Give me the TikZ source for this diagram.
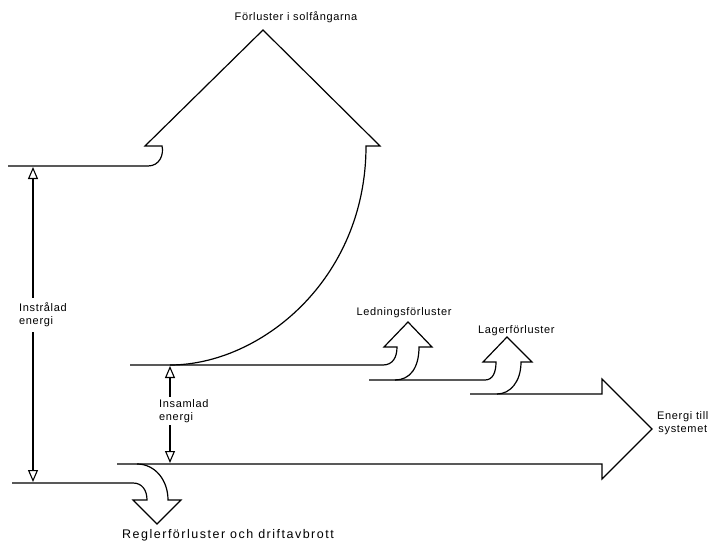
\documentclass[tikz,border=0pt]{standalone}
\usepackage{fontspec}
\setmainfont{Liberation Sans}
\newfontfamily\labfont[LetterSpace=6]{Liberation Sans}
\newfontfamily\labwide[LetterSpace=12]{Liberation Sans}
\usetikzlibrary{arrows.meta}
\begin{document}
\begin{tikzpicture}[x=1pt,y=-1pt,
  flow/.style={draw=black, line width=1.2pt, line join=miter},
  arr/.style={draw=black, line width=1.1pt, -{Triangle[open,width=10pt,length=12pt]}},
  lab/.style={font=\labfont\fontsize{11}{13}\selectfont, inner sep=0pt, text=black},
  labw/.style={font=\labwide\fontsize{12.5}{14}\selectfont, inner sep=0pt, text=black}]
\useasboundingbox (0,0) rectangle (713,543);

% collector losses (big upward arrow)
\draw[flow] (8,166) -- (148,166) .. controls (160,166) and (164,154) .. (162,146)
  -- (145,146) -- (263,30) -- (380,146) -- (366,146)
  .. controls (366,280) and (260,365) .. (170,365);

% collected energy top line with conduction-loss arrow
\draw[flow] (130,365) -- (383,365) .. controls (393,365) and (397,357) .. (397,347)
  -- (384,347) -- (408,322) -- (432,347) -- (419,347)
  .. controls (419,368) and (410,380) .. (395,380);

% storage-loss arrow
\draw[flow] (369,380) -- (485,380) .. controls (493,380) and (496,372) .. (496,362)
  -- (483,362) -- (507,337) -- (532,362) -- (521,362)
  .. controls (521,382) and (510,394) .. (497,394);

% energy to the system (big right arrow)
\draw[flow] (470,394) -- (602,394) -- (602,379) -- (652,429) -- (602,479)
  -- (602,464) -- (117,464);

% control losses (downward arrow)
\draw[flow] (12,483) -- (133,483) .. controls (142,483) and (147,490) .. (147,500)
  -- (133,500) -- (157,524) -- (181,500) -- (168,500)
  .. controls (168,480) and (155,464) .. (137,464);

% labels
\node[lab, anchor=base] (tsol) at (296,21) {Förluster i solfångarna};
\node[lab, anchor=base] (tled) at (404,315) {Ledningsförluster};
\node[lab, anchor=base west] (tlag) at (478,333) {Lagerförluster};
\node[lab, align=center, anchor=west] (tsys) at (657,423) {Energi till\\systemet};
\node[labw, anchor=base west] (treg) at (122,538) {Reglerförluster och driftavbrott};

\node[lab, align=left, anchor=west, inner ysep=5pt] (instr) at (19,315) {Instrålad\\energi};
\node[lab, align=left, anchor=west, inner ysep=2.5pt] (insam) at (159,411) {Insamlad\\energi};

\coordinate (itop) at (33,167);
\coordinate (ibot) at (33,482);
\coordinate (ctop) at (170,366);
\coordinate (cbot) at (170,463);

\draw[arr] (instr.north -| itop) -- (itop);
\draw[arr] (instr.south -| itop) -- (ibot);
\draw[arr] (insam.north -| ctop) -- (ctop);
\draw[arr] (insam.south -| ctop) -- (cbot);
\end{tikzpicture}
\end{document}
